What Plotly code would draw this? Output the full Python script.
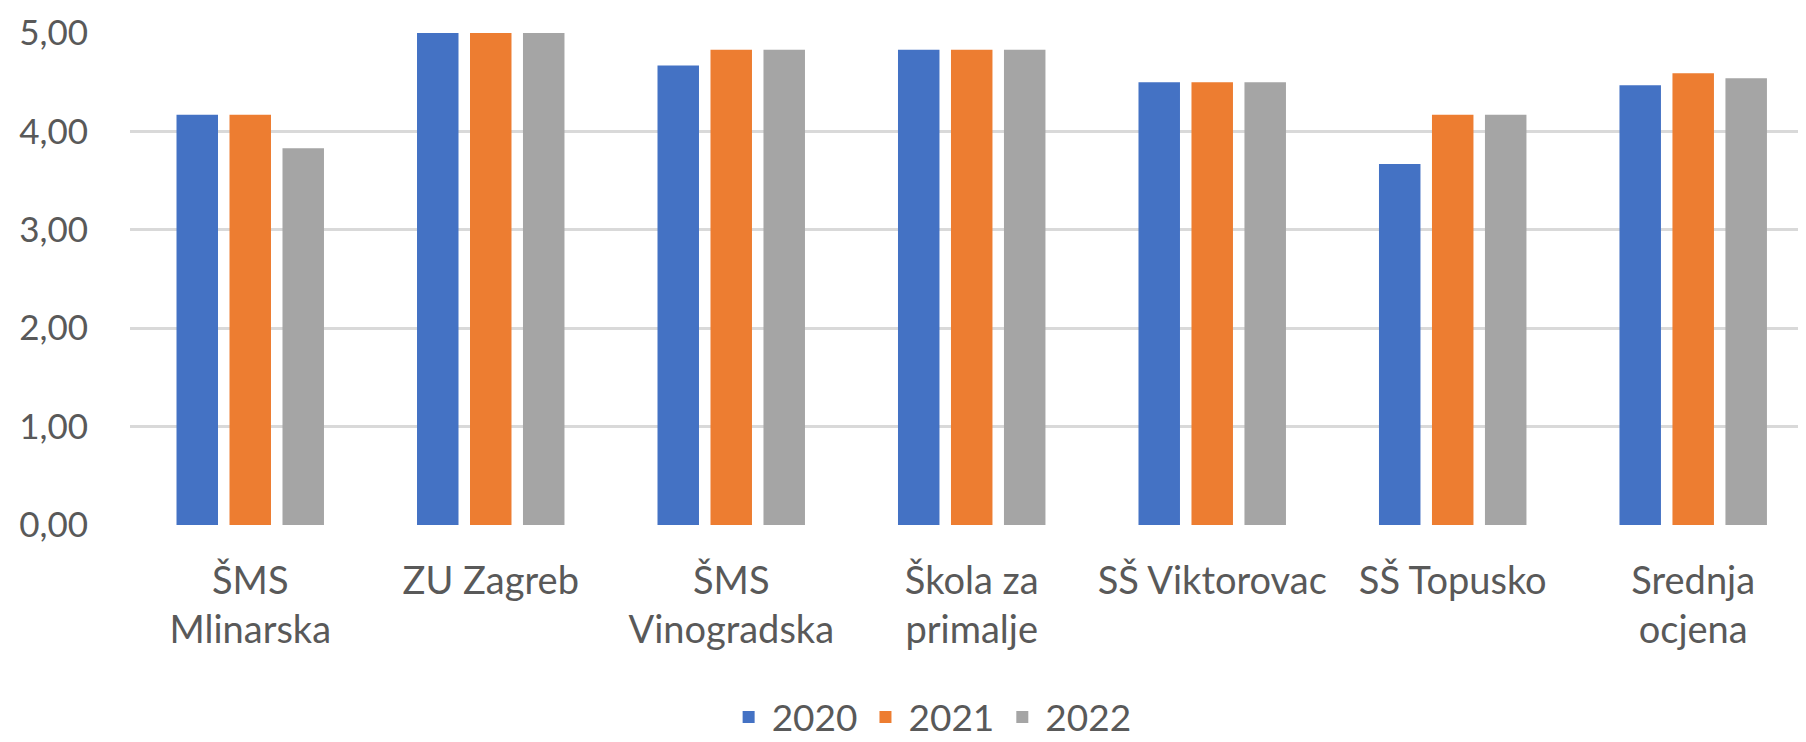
import plotly.graph_objects as go

categories = ["ŠMS<br>Mlinarska", "ZU Zagreb", "ŠMS<br>Vinogradska", "Škola za<br>primalje",
              "SŠ Viktorovac", "SŠ Topusko", "Srednja<br>ocjena"]
years = ["2020", "2021", "2022"]
v2020 = [4.17, 5.00, 4.67, 4.83, 4.50, 3.67, 4.47]
v2021 = [4.17, 5.00, 4.83, 4.83, 4.50, 4.17, 4.59]
v2022 = [3.83, 5.00, 4.83, 4.83, 4.50, 4.17, 4.54]
colors = ["#4472C4", "#ED7D31", "#A5A5A5"]
ytick_vals = [0, 1, 2, 3, 4, 5]

fig = go.Figure()
for name, vals, c in zip(years, [v2020, v2021, v2022], colors):
    fig.add_trace(go.Bar(x=list(range(len(categories))), y=vals, name=name,
                         marker=dict(color=c, line=dict(width=0))))

font = "Lato, 'Open Sans', sans-serif"
fig.update_layout(
    width=1798, height=734,
    margin=dict(l=122, r=0, t=25, b=217, autoexpand=False),
    paper_bgcolor="white", plot_bgcolor="white",
    barmode="group", bargap=0.339, bargroupgap=0.217,
    separators=", ",
    font=dict(family=font, size=38, color="#595959"),
    showlegend=True,
    legend=dict(orientation="h", x=0.478, xanchor="center",
                y=-0.391, yanchor="middle",
                font=dict(size=37, color="#595959"), itemwidth=36,
                traceorder="normal"),
)
fig.update_xaxes(
    range=[-0.5, 6.469], tickmode="array", tickvals=list(range(len(categories))),
    ticktext=categories, showgrid=False, zeroline=False, showline=False,
    ticks="", ticklabelstandoff=30, automargin=False,
    tickfont=dict(family=font, size=38, color="#595959"),
)
fig.update_yaxes(
    range=[0, 5.0001], tickmode="array", tickvals=ytick_vals, tickformat=".2f",
    showgrid=True, gridcolor="#D9D9D9", gridwidth=3, zeroline=False, showline=False,
    ticks="", ticklabelstandoff=41, automargin=False,
    tickfont=dict(family=font, size=35, color="#595959"),
)
fig.write_html("out.html")
